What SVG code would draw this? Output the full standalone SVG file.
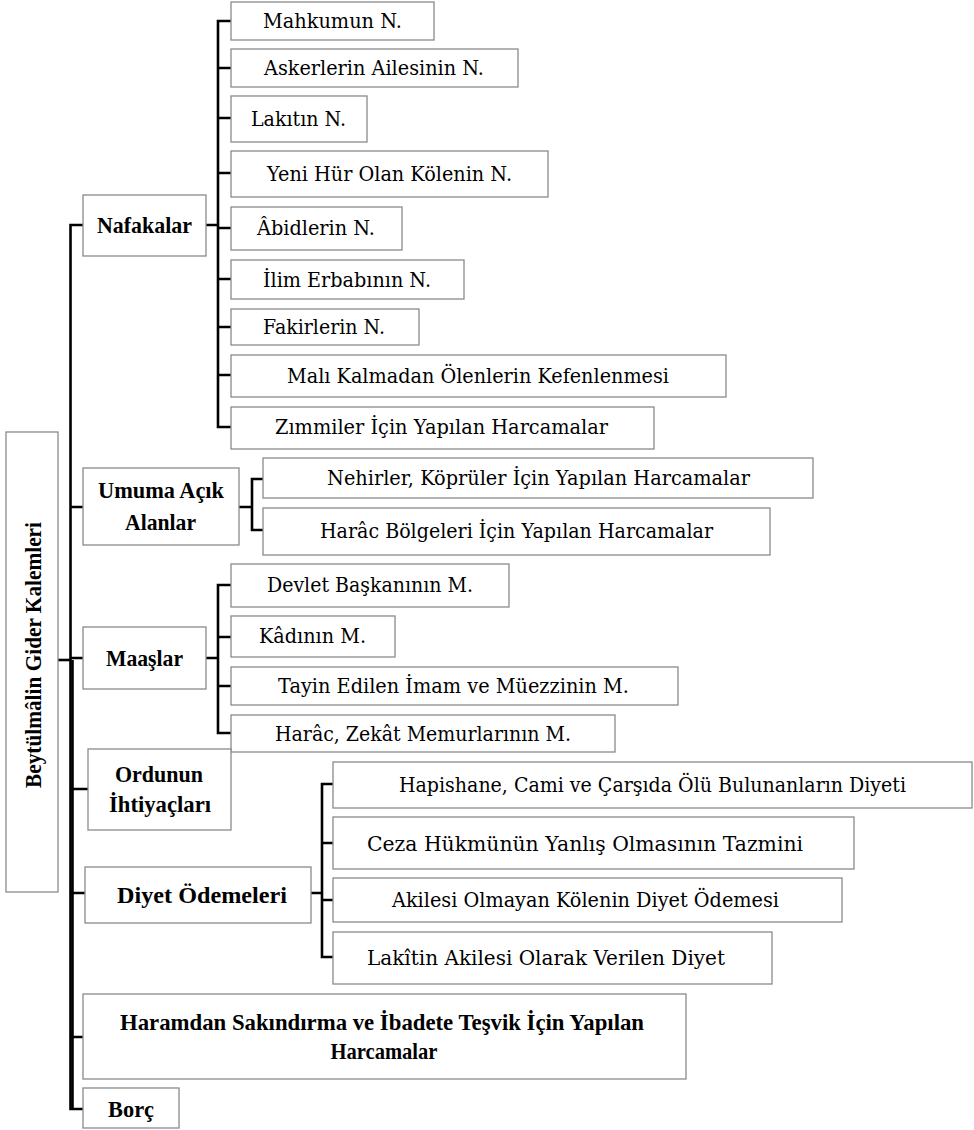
<svg xmlns="http://www.w3.org/2000/svg" width="974" height="1130" viewBox="0 0 974 1130">
<style>
.box{fill:#fff;stroke:#8a8a8a;stroke-width:1.3}
.c{fill:none;stroke:#000;stroke-width:2.6;stroke-linejoin:miter}
.t{font-family:"DejaVu Serif","Liberation Serif",serif;font-size:20px;fill:#000}
.b{font-family:"Liberation Serif",serif;font-size:24px;font-weight:bold;fill:#000}
</style>
<rect width="974" height="1130" fill="#fff"/>
<g id="connectors">
<path class="c" d="M58,660 H71"/>
<path class="c" d="M83,225 H70.5 V1109 H83"/>
<path class="c" d="M72.5,660 V1109" stroke-width="3"/>
<path class="c" d="M70.5,507 H83 M70.5,658 H83 M70.5,789 H88 M70.5,893 H85 M70.5,1037 H83"/>
<path class="c" d="M206,225 H218 M231,21 H218 V427 H231 M218,68 H231 M218,118 H231 M218,173 H231 M218,228 H231 M218,279 H231 M218,327 H231 M218,375 H231"/>
<path class="c" d="M239,507 H252 M263,479 H252 V530 H263"/>
<path class="c" d="M206,658 H218 M231,585 H218 V733 H231 M218,637 H231 M218,686 H231"/>
<path class="c" d="M311,893 H322 M333,784 H322 V957 H333 M322,843 H333 M322,900 H333"/>
</g>
<g id="root">
<rect class="box" x="6" y="432" width="52" height="460"/>
<text class="b" font-size="23" transform="translate(41,655) rotate(-90)" text-anchor="middle" textLength="266" lengthAdjust="spacingAndGlyphs">Beytülmâlin Gider Kalemleri</text>
</g>
<g id="nafakalar">
<rect class="box" x="83" y="195" width="123" height="61"/>
<text class="b" x="97" y="233" textLength="95" lengthAdjust="spacingAndGlyphs">Nafakalar</text>
</g>
<g id="n1"><rect class="box" x="231" y="2" width="203" height="38"/><text class="t" x="263" y="28" textLength="139" lengthAdjust="spacingAndGlyphs">Mahkumun N.</text></g>
<g id="n2"><rect class="box" x="231" y="49" width="287" height="38"/><text class="t" x="264" y="75" textLength="220" lengthAdjust="spacingAndGlyphs">Askerlerin Ailesinin N.</text></g>
<g id="n3"><rect class="box" x="231" y="96" width="136" height="46"/><text class="t" x="251" y="126" textLength="95" lengthAdjust="spacingAndGlyphs">Lakıtın N.</text></g>
<g id="n4"><rect class="box" x="231" y="151" width="317" height="46"/><text class="t" x="267" y="181" textLength="245" lengthAdjust="spacingAndGlyphs">Yeni Hür Olan Kölenin N.</text></g>
<g id="n5"><rect class="box" x="231" y="207" width="171" height="43"/><text class="t" x="257" y="235" textLength="118" lengthAdjust="spacingAndGlyphs">Âbidlerin N.</text></g>
<g id="n6"><rect class="box" x="231" y="260" width="233" height="39"/><text class="t" x="263" y="287" textLength="168" lengthAdjust="spacingAndGlyphs">İlim Erbabının N.</text></g>
<g id="n7"><rect class="box" x="231" y="309" width="188" height="36"/><text class="t" x="263" y="334" textLength="122" lengthAdjust="spacingAndGlyphs">Fakirlerin N.</text></g>
<g id="n8"><rect class="box" x="231" y="355" width="495" height="42"/><text class="t" x="287" y="383" textLength="382" lengthAdjust="spacingAndGlyphs">Malı Kalmadan Ölenlerin Kefenlenmesi</text></g>
<g id="n9"><rect class="box" x="231" y="407" width="423" height="42"/><text class="t" x="275" y="434" textLength="333" lengthAdjust="spacingAndGlyphs">Zımmiler İçin Yapılan Harcamalar</text></g>
<g id="umuma">
<rect class="box" x="83" y="468" width="156" height="77"/>
<text class="b" x="98" y="498" textLength="126" lengthAdjust="spacingAndGlyphs">Umuma Açık</text>
<text class="b" x="125" y="530" textLength="71" lengthAdjust="spacingAndGlyphs">Alanlar</text>
</g>
<g id="u1"><rect class="box" x="263" y="458" width="550" height="40"/><text class="t" x="327" y="485" textLength="423" lengthAdjust="spacingAndGlyphs">Nehirler, Köprüler İçin Yapılan Harcamalar</text></g>
<g id="u2"><rect class="box" x="263" y="508" width="507" height="47"/><text class="t" x="320" y="538" textLength="393" lengthAdjust="spacingAndGlyphs">Harâc Bölgeleri İçin Yapılan Harcamalar</text></g>
<g id="maaslar">
<rect class="box" x="83" y="627" width="123" height="62"/>
<text class="b" x="106" y="666" textLength="77" lengthAdjust="spacingAndGlyphs">Maaşlar</text>
</g>
<g id="m1"><rect class="box" x="231" y="564" width="278" height="43"/><text class="t" x="267" y="592" textLength="206" lengthAdjust="spacingAndGlyphs">Devlet Başkanının M.</text></g>
<g id="m2"><rect class="box" x="231" y="616" width="164" height="41"/><text class="t" x="259" y="643" textLength="107" lengthAdjust="spacingAndGlyphs">Kâdının M.</text></g>
<g id="m3"><rect class="box" x="231" y="667" width="447" height="38"/><text class="t" x="278" y="693" textLength="351" lengthAdjust="spacingAndGlyphs">Tayin Edilen İmam ve Müezzinin M.</text></g>
<g id="m4"><rect class="box" x="231" y="715" width="384" height="37"/><text class="t" x="275" y="741" textLength="296" lengthAdjust="spacingAndGlyphs">Harâc, Zekât Memurlarının M.</text></g>
<g id="ordunun">
<rect class="box" x="88" y="749" width="143" height="81"/>
<text class="b" x="115" y="782" textLength="88" lengthAdjust="spacingAndGlyphs">Ordunun</text>
<text class="b" x="109" y="812" textLength="102" lengthAdjust="spacingAndGlyphs">İhtiyaçları</text>
</g>
<g id="diyet">
<rect class="box" x="85" y="867" width="226" height="56"/>
<text class="b" x="117" y="903" textLength="170" lengthAdjust="spacingAndGlyphs">Diyet Ödemeleri</text>
</g>
<g id="d1"><rect class="box" x="333" y="762" width="639" height="46"/><text class="t" x="399" y="792" textLength="507" lengthAdjust="spacingAndGlyphs">Hapishane, Cami ve Çarşıda Ölü Bulunanların Diyeti</text></g>
<g id="d2"><rect class="box" x="333" y="817" width="521" height="52"/><text class="t" x="367" y="851" textLength="436" lengthAdjust="spacingAndGlyphs">Ceza Hükmünün Yanlış Olmasının Tazmini</text></g>
<g id="d3"><rect class="box" x="333" y="878" width="509" height="44"/><text class="t" x="392" y="907" textLength="387" lengthAdjust="spacingAndGlyphs">Akilesi Olmayan Kölenin Diyet Ödemesi</text></g>
<g id="d4"><rect class="box" x="333" y="932" width="439" height="52"/><text class="t" x="367" y="965" textLength="358" lengthAdjust="spacingAndGlyphs">Lakîtin Akilesi Olarak Verilen Diyet</text></g>
<g id="haramdan">
<rect class="box" x="83" y="994" width="603" height="85"/>
<text class="b" x="120" y="1030" textLength="524" lengthAdjust="spacingAndGlyphs">Haramdan Sakındırma ve İbadete Teşvik İçin Yapılan</text>
<text class="b" x="384" y="1059" text-anchor="middle" textLength="107" lengthAdjust="spacingAndGlyphs">Harcamalar</text>
</g>
<g id="borc">
<rect class="box" x="83" y="1088" width="96" height="40"/>
<text class="b" x="108" y="1117" textLength="46" lengthAdjust="spacingAndGlyphs">Borç</text>
</g>
</svg>
